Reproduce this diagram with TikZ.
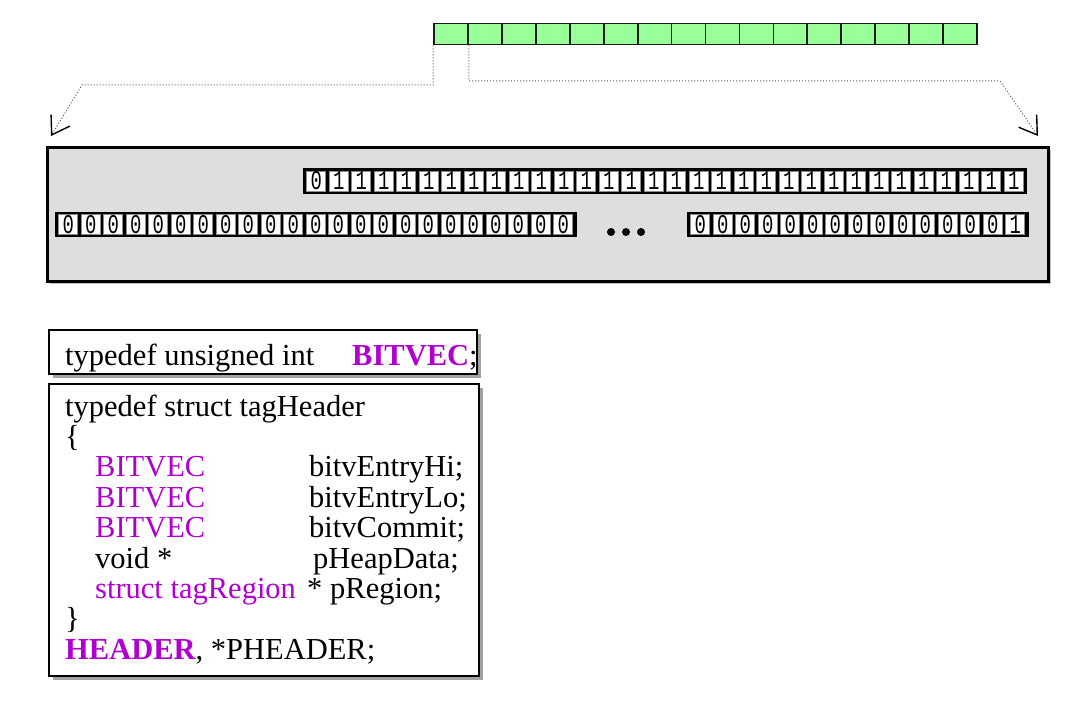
\documentclass[tikz,border=0pt]{standalone}
\usepackage{xcolor}
\usepackage{fontspec}
\setmainfont{Liberation Serif}
\newfontfamily\bitfont[FakeStretch=0.7]{Liberation Mono}
\usepackage{tikz}
\usetikzlibrary{calc}
\usetikzlibrary{arrows.meta}
\usetikzlibrary{shadows}
\definecolor{bitpurple}{RGB}{176,0,208}
\definecolor{cellgreen}{RGB}{153,255,153}
\definecolor{memgray}{RGB}{222,222,222}
\newcommand{\BitW}{22.5}
\newcommand{\GreenW}{33.94}

\begin{document}
\begin{tikzpicture}[x=1pt,y=-1pt,
  greencell/.style={draw=black!90,line width=1.8pt,fill=cellgreen,minimum width=\GreenW pt,minimum height=21pt,inner sep=0pt},
  bitcell/.style={draw=black!45,line width=0.6pt,fill=white,minimum width=19pt,minimum height=20pt,inner sep=0pt,
                  font=\bitfont\fontsize{27}{27}\selectfont},
  membox/.style={draw=black,line width=3.2pt,fill=memgray,minimum width=1001pt,minimum height=134pt,
                 drop shadow={shadow xshift=2.5pt,shadow yshift=-2.5pt,fill=black!50}},
  codebox/.style={draw=black,line width=1.3pt,fill=white,inner sep=0pt,
                  drop shadow={shadow xshift=3.5pt,shadow yshift=-3.5pt,fill=black!60,opacity=0.6}},
  code/.style={anchor=base west,inner sep=0pt,font=\fontsize{30.5}{31}\selectfont},
  link/.style={draw=black!65,line width=1pt,dotted,-{Straight Barb[length=17pt,width=22pt,line width=1.4pt,color=black]}}
]
\useasboundingbox (0,0) rectangle (1072,706);

% green word on top
\foreach \i in {1,...,16}
  \node[greencell] (g\i) at ({434+(\i-0.5)*\GreenW},34) {};

% memory box
\node[membox] (mem) at (548,214.5) {};

% dotted pointers
\coordinate (lcorner) at (82,85);
\coordinate (ltip) at (51,136);
\coordinate (rcorner) at (1000,81);
\coordinate (rtip) at (1038,136);
\draw[link] (g1.south west) |- (lcorner) -- (ltip);
\draw[link] (g1.south east) |- (rcorner) -- (rtip);

% row 1: 0 then 31 ones
\fill[black] (303,168) rectangle ++(724,26);
\foreach \i in {1,...,32}{
  \pgfmathtruncatemacro\d{\i>1}
  \node[bitcell] (r1c\i) at ({305+(\i-0.5)*\BitW},181) {\d};
}

% row 2, left part
\fill[black] (55,212) rectangle ++(521.5,25);
\foreach \i in {1,...,23}
  \node[bitcell] (r2l\i) at ({57+(\i-0.5)*\BitW},224.5) {0};

% dots
\fill[black] (611,232) circle (4) (626,232) circle (4) (641,232) circle (4);

% row 2, right part
\fill[black] (687,212) rectangle ++(341.5,25);
\foreach \i in {1,...,15}{
  \pgfmathtruncatemacro\d{\i==15}
  \node[bitcell] (r2r\i) at ({689+(\i-0.5)*\BitW},224.5) {\d};
}

% typedef boxes
\node[codebox,minimum width=428pt,minimum height=44pt] (bvbox) at (263,352) {};
\node[codebox,minimum width=430pt,minimum height=292pt] (hdrbox) at (264,530) {};

\node[code] (bvtype) at (65,365) {typedef unsigned int};
\node[code] (bvname) at (352,365) {\textcolor{bitpurple}{\bfseries BITVEC};};

\node[code] (hl1) at (65,416) {typedef struct tagHeader};
\node[code] (hl2) at (65,446.4) {\{};
\node[code] (m1t) at (95,476.8) {\textcolor{bitpurple}{BITVEC}};
\node[code] (m1n) at (309,476.8) {bitvEntryHi;};
\node[code] (m2t) at (95,507.2) {\textcolor{bitpurple}{BITVEC}};
\node[code] (m2n) at (309,507.2) {bitvEntryLo;};
\node[code] (m3t) at (95,537.6) {\textcolor{bitpurple}{BITVEC}};
\node[code] (m3n) at (309,537.6) {bitvCommit;};
\node[code] (m4t) at (95,568) {void *};
\node[code] (m4n) at (313,568) {pHeapData;};
\node[code] (m5t) at (95,598.4) {\textcolor{bitpurple}{struct tagRegion}};
\node[code] (m5s) at (307,598.4) {*};
\node[code] (m5n) at (330,598.4) {pRegion;};
\node[code] (hl8) at (65,628.8) {\}};
\node[code] (hl9) at (65,659.2) {\textcolor{bitpurple}{\bfseries HEADER}, *PHEADER;};
\end{tikzpicture}
\end{document}
